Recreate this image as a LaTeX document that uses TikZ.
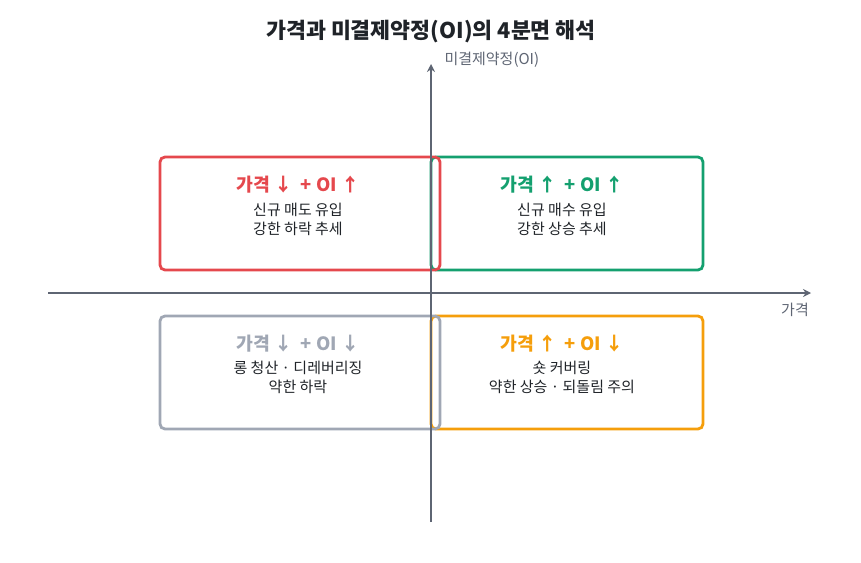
\documentclass[tikz,border=0pt]{standalone}
\usepackage{fontspec}
\setmainfont{Noto Sans CJK KR}
\usetikzlibrary{arrows.meta}
\definecolor{cred}{HTML}{E5484D}
\definecolor{cgreen}{HTML}{14A06F}
\definecolor{cgray}{HTML}{A0A7B4}
\definecolor{corange}{HTML}{F59E0B}
\definecolor{caxis}{HTML}{5E6573}
\definecolor{ctext}{HTML}{1F2328}
\tikzset{
  quad/.style={draw, line width=2.8pt, rounded corners=5pt},
  axis/.style={draw=caxis, line width=1.6pt, -{Stealth[length=8pt,width=8pt]}},
  qtitle/.style={font=\fontsize{18.3}{21}\selectfont\bfseries, anchor=center},
  qbody/.style={font=\fontsize{15}{19.5}\selectfont, text=ctext, align=center, anchor=center},
  axlabel/.style={font=\fontsize{15}{18}\selectfont, text=caxis}
}
\begin{document}
\begin{tikzpicture}[x=1pt,y=-1pt]
\useasboundingbox (0,0) rectangle (861,562);
% boxes (right ones first)
\draw[quad, draw=cgreen] (431,157) rectangle (703,270);
\draw[quad, draw=corange] (431,316) rectangle (703,429);
\draw[quad, draw=cred] (160,157) rectangle (440,270);
\draw[quad, draw=cgray] (160,316) rectangle (440,429);
% axes
\coordinate (xs) at (48,293);
\coordinate (xe) at (811,293);
\coordinate (ys) at (431,522);
\coordinate (ye) at (431,64);
\draw[axis] (xs) -- (xe);
\draw[axis] (ys) -- (ye);
% title
\node[font=\fontsize{21.7}{25}\selectfont\bfseries, text=ctext] (title) at (431,32) {가격과 미결제약정(OI)의 4분면 해석};
\node[axlabel, anchor=west] (ylab) at (441,60) {미결제약정(OI)};
\node[axlabel] (xlab) at (795,310) {가격};
% red
\node[qtitle, text=cred] (t1) at (298,185) {가격 ↓\ \ + OI ↑};
\node[qbody] (b1) at (298,219.5) {신규 매도 유입\\강한 하락 추세};
% green
\node[qtitle, text=cgreen] (t2) at (562,185) {가격 ↑\ \ + OI ↑};
\node[qbody] (b2) at (562,219.5) {신규 매수 유입\\강한 상승 추세};
% gray
\node[qtitle, text=cgray] (t3) at (298,344) {가격 ↓\ \ + OI ↓};
\node[qbody] (b3) at (298,377.5) {롱 청산 · 디레버리징\\약한 하락};
% orange
\node[qtitle, text=corange] (t4) at (562,344) {가격 ↑\ \ + OI ↓};
\node[qbody] (b4) at (562,377.5) {숏 커버링\\약한 상승 · 되돌림 주의};
\end{tikzpicture}
\end{document}
